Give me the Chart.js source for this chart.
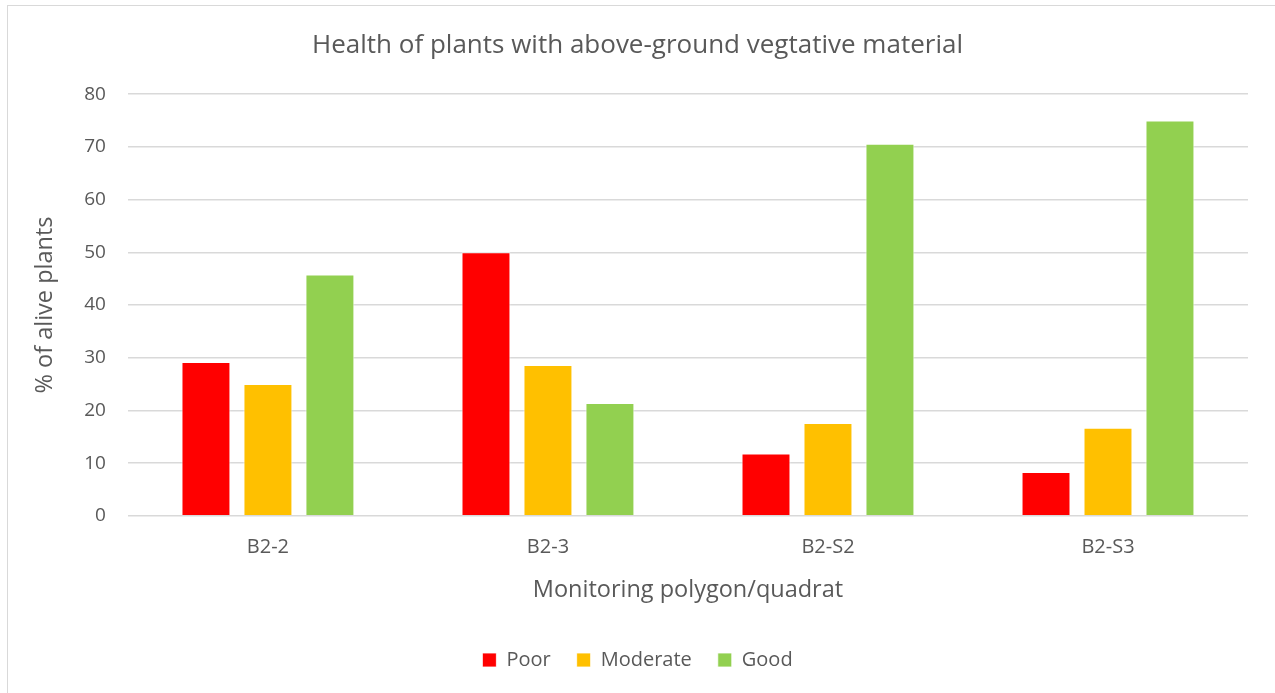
<!DOCTYPE html>
<html>
<head>
<meta charset="utf-8">
<script src="https://cdn.jsdelivr.net/npm/chart.js@4"></script>
<style>
  html, body { margin: 0; padding: 0; background: #fff; }
  #frame {
    position: absolute; left: 7px; top: 5px; width: 1290px; height: 710px;
    border: 1px solid #d9d9d9; box-sizing: border-box;
  }
  #wrap { position: absolute; left: 0; top: 0; width: 1275px; height: 693px; }
</style>
</head>
<body>
<div id="frame"></div>
<div id="wrap"><canvas id="healthChart"></canvas></div>
<script>
// quadrats along the x axis
const quadrats = ['B2-2', 'B2-3', 'B2-S2', 'B2-S3'];

// % of alive plants in each health class
const poorValues = [29.2, 50, 11.8, 8.3];
const moderateValues = [25, 28.6, 17.6, 16.7];
const goodValues = [45.8, 21.4, 70.6, 75];

const yTicks = [0, 10, 20, 30, 40, 50, 60, 70, 80];

const textColor = '#595959';
const fontFamily = "'Open Sans', 'Liberation Sans', sans-serif";

const ctx = document.getElementById('healthChart').getContext('2d');

new Chart(ctx, {
  type: 'bar',
  data: {
    labels: quadrats,
    datasets: [
      { label: 'Poor', data: poorValues, backgroundColor: '#FF0000' },
      { label: 'Moderate', data: moderateValues, backgroundColor: '#FFC000' },
      { label: 'Good', data: goodValues, backgroundColor: '#92D050' }
    ].map(ds => Object.assign(ds, {
      borderColor: 'rgba(255,255,255,0.8)',
      borderWidth: 1,
      categoryPercentage: 0.664,
      barPercentage: 0.79
    }))
  },
  options: {
    responsive: true,
    maintainAspectRatio: false,
    animation: false,
    layout: { padding: { left: 27, right: 27, top: 20, bottom: 13 } },
    plugins: {
      title: {
        display: true,
        text: 'Health of plants with above-ground vegtative material',
        color: textColor,
        font: { family: fontFamily, size: 26, weight: 'normal' },
        padding: { top: 10, bottom: 33 }
      },
      legend: {
        position: 'bottom',
        labels: {
          color: textColor,
          font: { family: fontFamily, size: 20 },
          boxWidth: 14,
          boxHeight: 14,
          padding: 26
        }
      },
      tooltip: { enabled: false }
    },
    scales: {
      x: {
        grid: { display: false },
        border: { display: false },
        ticks: { color: textColor, font: { family: fontFamily, size: 20 }, padding: 11 },
        title: {
          display: true,
          text: 'Monitoring polygon/quadrat',
          color: textColor,
          font: { family: fontFamily, size: 23.5 },
          padding: { top: 6, bottom: 20 }
        }
      },
      y: {
        min: 0,
        max: 80,
        afterBuildTicks: axis => { axis.ticks = yTicks.map(v => ({ value: v })); },
        grid: { color: '#D9D9D9', lineWidth: 1.5, drawTicks: false },
        border: { display: false },
        ticks: { color: textColor, font: { family: fontFamily, size: 19 }, padding: 22 },
        title: {
          display: true,
          text: '% of alive plants',
          color: textColor,
          font: { family: fontFamily, size: 23.5 },
          padding: { bottom: 3 }
        }
      }
    }
  }
});
</script>
</body>
</html>
